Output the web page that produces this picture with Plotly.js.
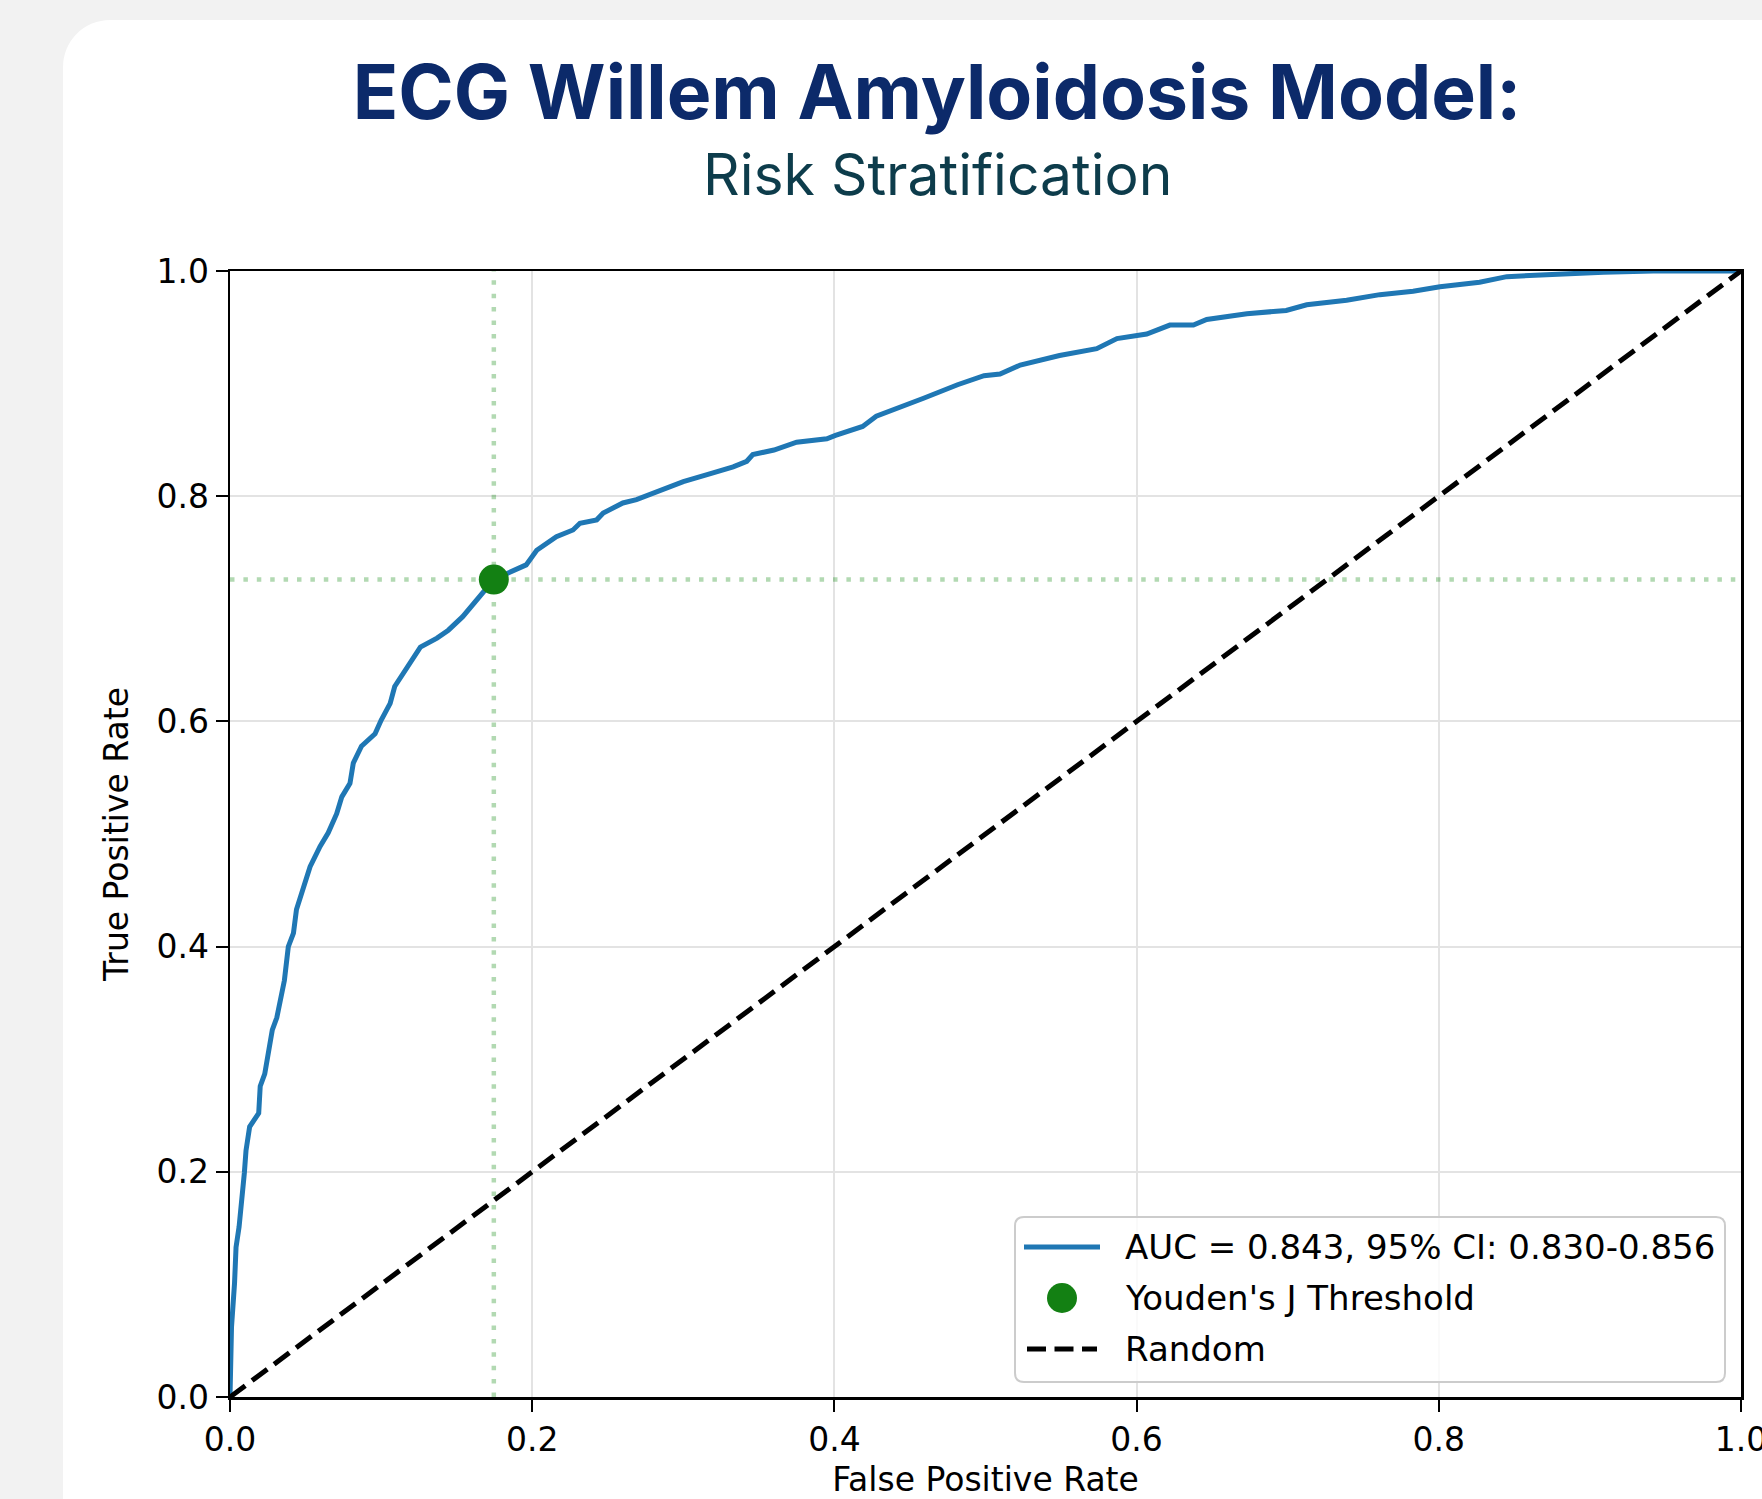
<!DOCTYPE html>
<html><head><meta charset="utf-8">
<script src="https://cdn.plot.ly/plotly-3.0.1.min.js"></script>
<style>
html,body{margin:0;padding:0;background:#f2f2f2;width:1762px;height:1499px;overflow:hidden;}
#card{position:absolute;left:63px;top:20px;width:1760px;height:1560px;background:#ffffff;border-radius:47px;}
#chart{position:absolute;left:0;top:0;width:1762px;height:1499px;}
</style></head><body>
<div id="card"></div><div id="chart"></div>
<script>
// ROC curve
const fpr = [0, 0.001, 0.003, 0.004, 0.006, 0.008, 0.0095, 0.0106, 0.013, 0.019, 0.020, 0.023, 0.026, 0.028, 0.031, 0.034, 0.036, 0.0386, 0.042, 0.044, 0.0485, 0.053, 0.0596, 0.065, 0.0706, 0.074, 0.0794, 0.0816, 0.087, 0.096, 0.100, 0.106, 0.109, 0.116, 0.126, 0.137, 0.1445, 0.154, 0.167, 0.1746, 0.196, 0.203, 0.216, 0.227, 0.2316, 0.2427, 0.247, 0.260, 0.269, 0.289, 0.300, 0.318, 0.333, 0.342, 0.346, 0.360, 0.375, 0.395, 0.4007, 0.4187, 0.4277, 0.459, 0.4815, 0.499, 0.5096, 0.523, 0.549, 0.5736, 0.587, 0.6067, 0.622, 0.6376, 0.6464, 0.673, 0.699, 0.7126, 0.739, 0.761, 0.783, 0.8008, 0.827, 0.845, 0.876, 0.909, 0.942, 1.0];
const tpr = [0, 0.062, 0.101, 0.133, 0.151, 0.175, 0.199, 0.219, 0.240, 0.252, 0.276, 0.287, 0.311, 0.326, 0.337, 0.355, 0.370, 0.400, 0.412, 0.433, 0.453, 0.471, 0.489, 0.501, 0.518, 0.533, 0.545, 0.563, 0.578, 0.589, 0.601, 0.616, 0.631, 0.646, 0.666, 0.674, 0.681, 0.693, 0.713, 0.726, 0.739, 0.752, 0.764, 0.770, 0.776, 0.779, 0.785, 0.794, 0.797, 0.808, 0.813, 0.820, 0.826, 0.831, 0.837, 0.841, 0.848, 0.851, 0.854, 0.862, 0.871, 0.887, 0.899, 0.907, 0.9085, 0.9165, 0.925, 0.931, 0.940, 0.944, 0.952, 0.952, 0.957, 0.962, 0.965, 0.970, 0.974, 0.979, 0.982, 0.986, 0.990, 0.995, 0.997, 0.999, 1.0, 1.0];

// Youden's J optimal threshold
const youdenFpr = [0.1746];
const youdenTpr = [0.726];

// chance diagonal
const randomX = [0, 1];
const randomY = [0, 1];

// axis ticks
const tickVals = [0, 0.2, 0.4, 0.6, 0.8, 1.0];
const tickText = ['0.0', '0.2', '0.4', '0.6', '0.8', '1.0'];

// legend entries
const legendLabels = ['AUC = 0.843, 95% CI: 0.830-0.856', "Youden's J Threshold", 'Random'];

const axisRange = [tickVals[0], tickVals[tickVals.length - 1]];
const tickFont = {family: 'DejaVu Sans', size: 33, color: '#000000'};

const rocColor = '#1f77b4';
const youdenColor = '#138013';
const rocLine = {color: rocColor, width: 5};
const randomLine = {color: '#000000', width: 5, dash: '19px,8.5px'};
const guideStyle = {color: 'rgba(0,128,0,0.3)', width: 4.5, dash: '4.5px,8.9px'};

const traces = [
  {x: [youdenFpr[0], youdenFpr[0]], y: axisRange, mode: 'lines', line: guideStyle, showlegend: false, hoverinfo: 'skip'},
  {x: axisRange, y: [youdenTpr[0], youdenTpr[0]], mode: 'lines', line: guideStyle, showlegend: false, hoverinfo: 'skip'},
  {x: fpr, y: tpr, mode: 'lines', name: legendLabels[0], line: rocLine, showlegend: false},
  {x: youdenFpr, y: youdenTpr, mode: 'markers', name: legendLabels[1], marker: {color: youdenColor, size: 30}, showlegend: false},
  {x: randomX, y: randomY, mode: 'lines', name: legendLabels[2], line: randomLine, showlegend: false}
];

const axisCommon = {
  range: axisRange,
  tickvals: tickVals,
  ticktext: tickText,
  tickfont: tickFont,
  ticks: 'outside',
  ticklen: 12,
  tickwidth: 2,
  tickcolor: '#000000',
  showline: true,
  linecolor: '#000000',
  linewidth: 2.5,
  mirror: true,
  showgrid: true,
  gridcolor: '#e3e3e3',
  gridwidth: 2,
  zeroline: false,
  automargin: false,
  ticklabeloverflow: 'allow',
  fixedrange: true
};

// ---- legend box (drawn in paper space, px -> paper helpers) ----
const L = 230, T = 271, W = 1511, H = 1126;
const px = v => (v - L) / W;
const py = v => (T + H - v) / H;
function roundRect(x0, y0, x1, y1, r) {
  const rx = r / W, ry = r / H;
  const a = px(x0), b = px(x1), top = py(y0), bot = py(y1);
  return `M${a + rx},${top} L${b - rx},${top} Q${b},${top} ${b},${top - ry} ` +
         `L${b},${bot + ry} Q${b},${bot} ${b - rx},${bot} L${a + rx},${bot} ` +
         `Q${a},${bot} ${a},${bot + ry} L${a},${top - ry} Q${a},${top} ${a + rx},${top} Z`;
}
const rowY = [1247, 1298, 1349];
const shapes = [
  {type: 'path', xref: 'paper', yref: 'paper', path: roundRect(1015, 1217, 1725, 1382, 9),
   fillcolor: 'rgba(255,255,255,0.8)', line: {color: '#cccccc', width: 2}, layer: 'above'},
  {type: 'line', xref: 'paper', yref: 'paper', x0: px(1024), x1: px(1100), y0: py(rowY[0]), y1: py(rowY[0]),
   line: rocLine, layer: 'above'},
  {type: 'circle', xref: 'paper', yref: 'paper', xsizemode: 'pixel', ysizemode: 'pixel',
   xanchor: px(1062), yanchor: py(rowY[1]), x0: -15, x1: 15, y0: -15, y1: 15,
   fillcolor: youdenColor, line: {width: 0}, layer: 'above'},
  {type: 'line', xref: 'paper', yref: 'paper', x0: px(1027), x1: px(1097), y0: py(rowY[2]), y1: py(rowY[2]),
   line: randomLine, layer: 'above'}
];

const annotations = [{
  text: 'Risk Stratification',
  xref: 'paper', yref: 'paper',
  x: px(937), y: py(175),
  xanchor: 'center', yanchor: 'middle',
  showarrow: false,
  font: {family: 'Inter', size: 57, color: '#0d3c4b'}
}];
legendLabels.forEach((t, i) => annotations.push({
  text: t, xref: 'paper', yref: 'paper', x: px(1123), y: py(rowY[i]),
  xanchor: 'left', yanchor: 'middle', showarrow: false,
  font: {family: 'DejaVu Sans', size: 34, color: '#000000'}
}));

const layout = {
  width: 1762,
  height: 1499,
  paper_bgcolor: 'rgba(0,0,0,0)',
  plot_bgcolor: '#ffffff',
  margin: {l: L, r: 1762 - L - W, t: T, b: 1499 - T - H},
  title: {
    text: '<b>ECG Willem Amyloidosis Model:</b>',
    font: {family: 'Inter', size: 75, color: '#0c2a6a'},
    x: 937 / 1762, xanchor: 'center',
    xref: 'container', yref: 'container',
    y: 1 - 93 / 1499, yanchor: 'middle'
  },
  annotations: annotations,
  shapes: shapes,
  xaxis: Object.assign({}, axisCommon, {
    title: {text: 'False Positive Rate', font: tickFont, standoff: 25}
  }),
  yaxis: Object.assign({}, axisCommon, {
    title: {text: 'True Positive Rate', font: tickFont, standoff: 18}
  }),
  showlegend: false
};

Plotly.newPlot('chart', traces, layout, {displayModeBar: false, staticPlot: true});
</script>
</body></html>
